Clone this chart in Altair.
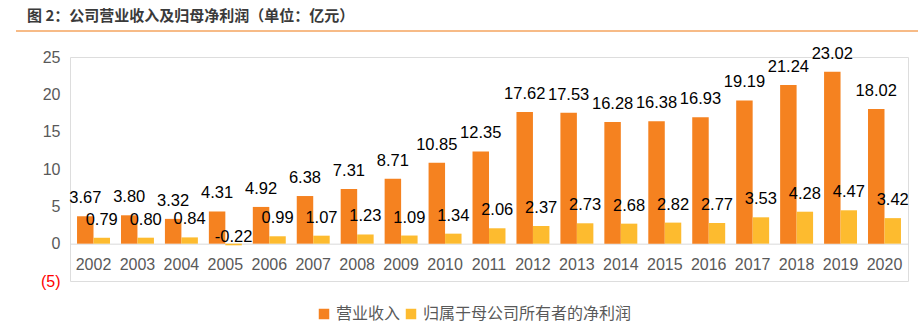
import altair as alt
import pandas as pd

years = [str(y) for y in range(2002, 2021)]
revenue = [3.67, 3.80, 3.32, 4.31, 4.92, 6.38, 7.31, 8.71, 10.85, 12.35,
           17.62, 17.53, 16.28, 16.38, 16.93, 19.19, 21.24, 23.02, 18.02]
net_profit = [0.79, 0.80, 0.84, -0.22, 0.99, 1.07, 1.23, 1.09, 1.34, 2.06,
              2.37, 2.73, 2.68, 2.82, 2.77, 3.53, 4.28, 4.47, 3.42]
series = ["营业收入", "归属于母公司所有者的净利润"]
colors = ["#F58220", "#FDBB2F"]
y_ticks = [-5, 0, 5, 10, 15, 20, 25]
title_text = "图 2：公司营业收入及归母净利润（单位：亿元）"

rows = []
for i, y in enumerate(years):
    rows.append({"year": y, "series": series[0], "value": revenue[i]})
    rows.append({"year": y, "series": series[1], "value": net_profit[i]})
df = pd.DataFrame(rows)

NUM_FONT = "Liberation Sans"
CJK_FONT = "Noto Sans CJK SC"

x_enc = alt.X("year:N", sort=years,
              scale=alt.Scale(paddingInner=0.25, paddingOuter=0.16),
              axis=alt.Axis(title=None, labelAngle=0, orient="bottom",
                            offset=-37.33, ticks=False, domain=True,
                            domainColor="#d9d9d9", domainWidth=1,
                            labelFont=NUM_FONT, labelFontSize=16,
                            labelColor="#595959", labelPadding=13))
y_enc = alt.Y("value:Q",
              scale=alt.Scale(domain=[-5, 25], nice=False, zero=False),
              axis=alt.Axis(title=None, values=y_ticks, grid=False, domain=False,
                            ticks=False, labelFont=NUM_FONT, labelFontSize=16,
                            labelPadding=10,
                            labelExpr="datum.value < 0 ? '(' + abs(datum.value) + ')' : datum.label",
                            labelColor={"condition": {"test": "datum.value < 0", "value": "#FF0000"},
                                        "value": "#595959"}))
xoff = alt.XOffset("series:N", sort=series, scale=alt.Scale(paddingInner=0))

base = alt.Chart(df).transform_calculate(
    label="(datum.value < 0 ? '-' : '') + format(abs(datum.value), '.2f')")

bars = base.mark_bar().encode(
    x=x_enc, y=y_enc, xOffset=xoff,
    color=alt.Color("series:N", sort=series,
                    scale=alt.Scale(domain=series, range=colors),
                    legend=alt.Legend(title=None, orient="none", direction="horizontal",
                                      legendX=246, legendY=249,
                                      symbolType="square", symbolSize=110,
                                      symbolStrokeWidth=0, labelLimit=400,
                                      labelFont=CJK_FONT, labelFontSize=16,
                                      labelColor="#595959", columnPadding=2,
                                      symbolOffset=0, labelOffset=4)),
)

labels_pos = base.mark_text(font=NUM_FONT, fontSize=16.5, color="#000000",
                            baseline="alphabetic", dy=-13).encode(
    x=x_enc, y=y_enc, xOffset=xoff,
    text=alt.Text("label:N"),
).transform_filter("datum.value >= 0")

labels_neg = base.mark_text(font=NUM_FONT, fontSize=16.5, color="#000000",
                            baseline="alphabetic", dy=-3).encode(
    x=x_enc, y=y_enc, xOffset=xoff,
    text=alt.Text("label:N"),
).transform_filter("datum.value < 0")

deco = alt.Chart(pd.DataFrame({"t": [title_text]}))

title_rule = deco.mark_rule(color="#F5A45F", strokeWidth=1.5).encode(
    x=alt.value(-54), x2=alt.value(848), y=alt.value(-26))

title_mark = deco.mark_text(font=CJK_FONT, fontSize=15, fontWeight="bold",
                            color="#3A3A3A", align="left", baseline="middle").encode(
    x=alt.value(-43), y=alt.value(-41), text="t:N")

chart = alt.layer(bars, labels_pos, labels_neg, title_rule, title_mark).properties(
    width=838, height=224,
    autosize=alt.AutoSizeParams(type="none"),
    padding={"left": 70, "top": 57, "right": 10, "bottom": 44},
).configure_view(stroke=None).configure(background="white")

chart.save("out.html", embed_options={"renderer": "svg", "actions": False})
